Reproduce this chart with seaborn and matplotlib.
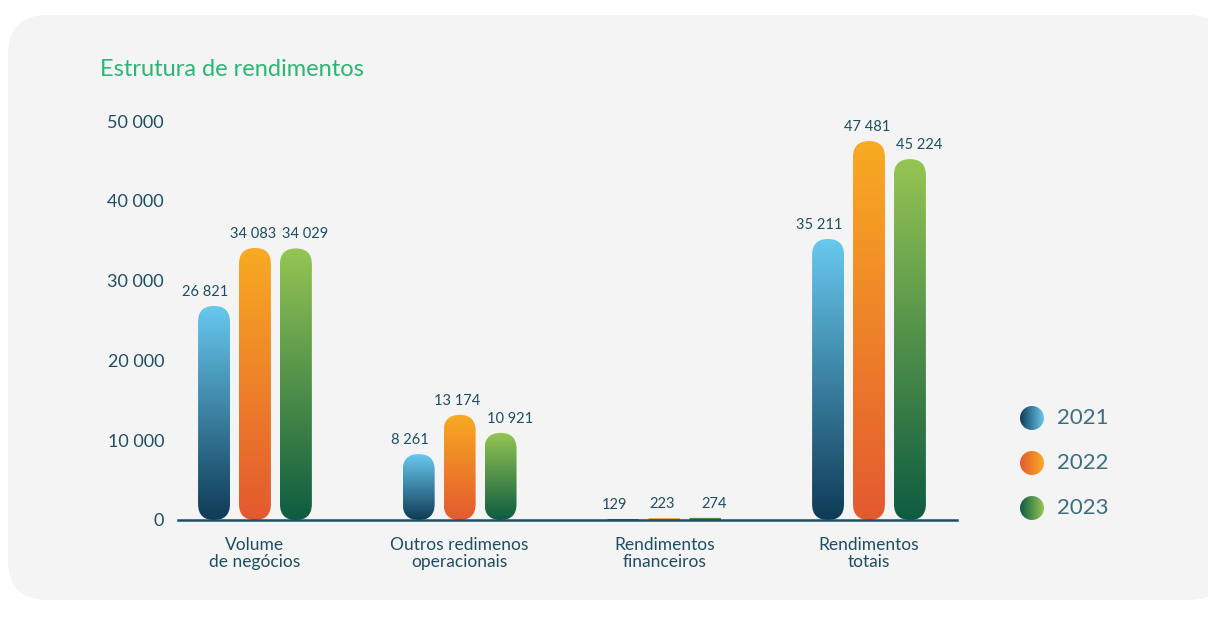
import numpy as np
import pandas as pd
import seaborn as sns
import matplotlib.pyplot as plt
from matplotlib.patches import FancyBboxPatch, Circle
from matplotlib.colors import LinearSegmentedColormap

# data
categories = ["Volume\nde negócios", "Outros redimenos\noperacionais",
              "Rendimentos\nfinanceiros", "Rendimentos\ntotais"]
years = ["2021", "2022", "2023"]
v2021 = [26821, 8261, 129, 35211]
v2022 = [34083, 13174, 223, 47481]
v2023 = [34029, 10921, 274, 45224]
yticks = [0, 10000, 20000, 30000, 40000, 50000]

# gradient colours per year (bottom, top)
grad = {"2021": ("#0f3b56", "#68c9ef"),
        "2022": ("#e3592f", "#f8ab22"),
        "2023": ("#0e5c41", "#95c553")}
txt = "#1e4e64"

df = pd.DataFrame({
    "categoria": categories * 3,
    "ano": [y for y in years for _ in categories],
    "valor": v2021 + v2022 + v2023,
})

sns.set_theme(style="white")
plt.rcParams["font.family"] = ["Lato", "DejaVu Sans"]

W, H = 1208, 628
fig = plt.figure(figsize=(W / 100, H / 100), dpi=100)
fig.patch.set_facecolor("white")

# light grey card behind everything
card = FancyBboxPatch((0.08, 0.28), 12.2, 5.85, boxstyle="round,pad=0,rounding_size=0.4",
                      transform=fig.dpi_scale_trans, facecolor="#f4f4f4", edgecolor="none", zorder=-10)
fig.add_artist(card)

ax = fig.add_axes([178 / W, 1 - 520 / H, (957 - 178) / W, (520 - 121) / H])
ax.set_facecolor("none")

sns.barplot(data=df, x="categoria", y="valor", hue="ano", width=0.6, gap=0.22,
            palette=[grad[y][1] for y in years], legend=False, ax=ax)

xmin, xmax = -0.376, 3.43
ax.set_xlim(xmin, xmax)
ax.set_ylim(0, 50000)

# pixel scale -> aspect for round corners
px_x = (957 - 178) / (xmax - xmin)
px_y = (520 - 121) / 50000
asp = px_x / px_y

vals = {"2021": v2021, "2022": v2022, "2023": v2023}
label_shift = {"2021": -0.045, "2022": -0.01, "2023": 0.045}
gimg = np.linspace(0, 1, 256).reshape(-1, 1)
for cont, yr in zip(ax.containers, years):
    cmap = LinearSegmentedColormap.from_list(yr, list(grad[yr]))
    for bar, v in zip(cont, vals[yr]):
        x0, w, h = bar.get_x(), bar.get_width(), bar.get_height()
        bar.set_visible(False)
        r = min(w / 2, h / asp / 2)
        shape = FancyBboxPatch((x0, 0), w, h, boxstyle=f"round,pad=0,rounding_size={r}",
                               mutation_aspect=asp, transform=ax.transData,
                               facecolor="none", edgecolor="none")
        ax.add_patch(shape)
        im = ax.imshow(gimg, extent=[x0, x0 + w, 0, h], origin="lower", cmap=cmap,
                       aspect="auto", zorder=2)
        im.set_clip_path(shape)
        ax.text(x0 + w / 2 + label_shift[yr], h + 900, f"{v:,}".replace(",", " "),
                ha="center", va="bottom", fontsize=10.5, color=txt)

ax.set_xlim(xmin, xmax)
ax.set_ylim(0, 50000)
ax.set_yticks(yticks)
ax.set_yticklabels([f"{t:,}".replace(",", " ") for t in yticks], fontsize=13, color=txt)
ax.set_xticks(range(len(categories)))
ax.set_xticklabels(categories, fontsize=12.5, color=txt, linespacing=1.1)
ax.tick_params(axis="x", length=0, pad=12)
ax.tick_params(axis="y", length=0, pad=10)
ax.set_xlabel("")
ax.set_ylabel("")
for s in ["top", "right", "left"]:
    ax.spines[s].set_visible(False)
ax.spines["bottom"].set_color(txt)
ax.spines["bottom"].set_linewidth(1.8)
ax.spines["bottom"].set_zorder(3)

fig.text(100 / W, 1 - 69 / H, "Estrutura de rendimentos", fontsize=17, color="#2bb673",
         va="center", ha="left")

# legend with gradient circles
hgrad = np.linspace(0, 1, 256).reshape(1, -1)
for i, yr in enumerate(years):
    cy = 418 + i * 45
    cx = 1032
    rad = 12
    lax = fig.add_axes([(cx - rad) / W, 1 - (cy + rad) / H, 2 * rad / W, 2 * rad / H])
    lax.set_axis_off()
    cmap = LinearSegmentedColormap.from_list("l" + yr, list(grad[yr]))
    im = lax.imshow(hgrad, extent=[0, 1, 0, 1], cmap=cmap, aspect="auto")
    im.set_clip_path(Circle((0.5, 0.5), 0.5, transform=lax.transAxes))
    fig.text(1057 / W, 1 - cy / H, yr, fontsize=16, color="#3d6d82", va="center",
             ha="left")

fig.savefig("out.png", dpi=100)
